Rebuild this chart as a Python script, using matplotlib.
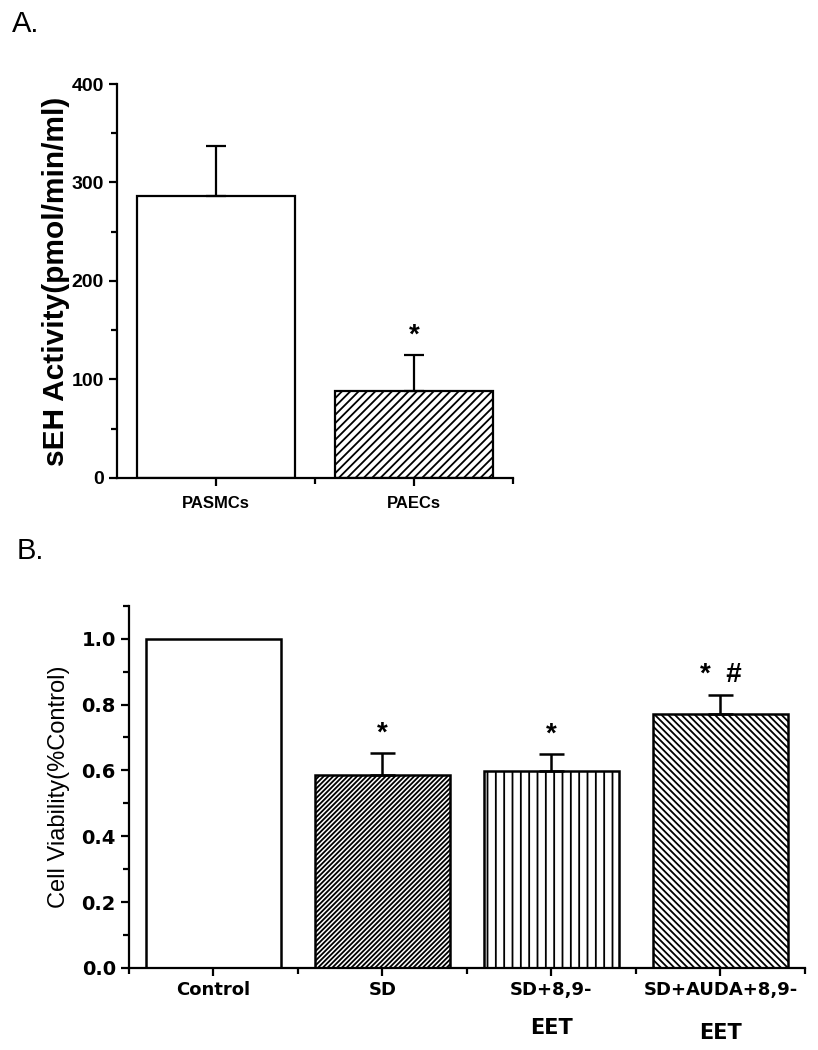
import matplotlib
matplotlib.use("Agg")
import matplotlib.pyplot as plt
import numpy as np
from matplotlib.ticker import MultipleLocator, FixedLocator, FormatStrFormatter

plt.rcParams['hatch.linewidth'] = 1.3
plt.rcParams['font.family'] = ['Liberation Sans', 'DejaVu Sans']

# panel A data
cells = ['PASMCs', 'PAECs']
seh_mean = [286, 88]
seh_err = [51, 37]
seh_marks = ['', '*']

# panel B data
groups = ['Control', 'SD', 'SD+8,9-', 'SD+AUDA+8,9-']
groups_line2 = ['', '', 'EET', 'EET']
viab_mean = [1.0, 0.587, 0.599, 0.772]
viab_err = [0.0, 0.066, 0.051, 0.058]
viab_marks = ['', '*', '*', '*  #']

fig = plt.figure(figsize=(8.18, 10.5), dpi=100)


def bars_with_err(ax, x, mean, err, hatches, lw, cap):
    ax.bar(x, mean, width=0.8, color='white', edgecolor='black', linewidth=lw,
           hatch=hatches, zorder=2)
    x = np.asarray(x)
    mean = np.asarray(mean)
    err = np.asarray(err)
    keep = err > 0
    ax.errorbar(x[keep], mean[keep], yerr=[np.zeros(keep.sum()), err[keep]],
                fmt='none', ecolor='black', elinewidth=lw, capthick=lw,
                capsize=cap, zorder=3)


# ---------- A ----------
axA = fig.add_axes([0.1430, 0.5448, 0.4841, 0.3752])
xa = np.arange(1, len(cells) + 1)
bars_with_err(axA, xa, seh_mean, seh_err, [None, '////'], 1.6, 7)
for x, m, e, s in zip(xa, seh_mean, seh_err, seh_marks):
    if s:
        axA.annotate(s, (x, m + e), xytext=(0, 14), textcoords='offset points',
                     ha='center', va='center', fontsize=20, fontweight='bold')
axA.set_xlim(0.5, 2.5)
axA.set_ylim(0, 400)
axA.yaxis.set_major_locator(MultipleLocator(100))
axA.yaxis.set_minor_locator(MultipleLocator(50))
axA.set_xticks(xa)
axA.set_xticklabels(cells, fontweight='bold', fontsize=12)
axA.xaxis.set_minor_locator(FixedLocator([1.5, 2.5]))
axA.tick_params(axis='x', pad=7)
for lab in axA.get_yticklabels():
    lab.set_fontweight('bold')
    lab.set_fontsize(14)
axA.set_ylabel('sEH Activity(pmol/min/ml)', fontsize=21.5, fontweight='bold', labelpad=1)

# ---------- B ----------
axB = fig.add_axes([0.1577, 0.0781, 0.8264, 0.3450])
xb = np.arange(1, len(groups) + 1)
bars_with_err(axB, xb, viab_mean, viab_err,
              [None, '///////', '||', '\\\\\\\\\\'], 1.8, 9)
for x, m, e, s in zip(xb, viab_mean, viab_err, viab_marks):
    if s:
        axB.annotate(s, (x, m + e), xytext=(0, 14), textcoords='offset points',
                     ha='center', va='center', fontsize=20, fontweight='bold')
axB.set_xlim(0.5, 4.5)
axB.set_ylim(0, 1.1)
axB.yaxis.set_major_locator(MultipleLocator(0.2))
axB.yaxis.set_minor_locator(MultipleLocator(0.1))
axB.yaxis.set_major_formatter(FormatStrFormatter('%.1f'))
axB.set_xticks(xb)
axB.set_xticklabels(groups, family='DejaVu Sans', fontweight='bold', fontsize=13)
axB.xaxis.set_minor_locator(FixedLocator([0.5, 1.5, 2.5, 3.5, 4.5]))
for lab in axB.get_yticklabels():
    lab.set_family('DejaVu Sans')
    lab.set_fontweight('bold')
    lab.set_fontsize(14)
for x, t, dy in zip(xb, groups_line2, [0, 0, -0.165, -0.18]):
    if t:
        axB.text(x, dy, t, transform=axB.get_xaxis_transform(), ha='center',
                 va='center', fontsize=15, fontweight='bold', family='DejaVu Sans')
axB.set_ylabel('Cell Viability(%Control)', fontsize=17, labelpad=8)

for ax in (axA, axB):
    for side in ('top', 'right'):
        ax.spines[side].set_visible(False)
    for side in ('left', 'bottom'):
        ax.spines[side].set_linewidth(1.6)
    ax.tick_params(which='major', direction='out', length=6, width=1.6)
    ax.tick_params(which='minor', direction='out', length=4, width=1.6)

fig.text(0.014, 0.977, 'A.', fontsize=21, va='center', ha='left')
fig.text(0.020, 0.475, 'B.', fontsize=21, va='center', ha='left')

fig.savefig('out.png', dpi=100)
